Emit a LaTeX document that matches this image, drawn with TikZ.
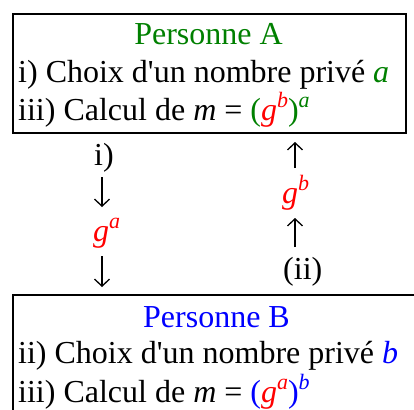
\documentclass[tikz,border=0pt]{standalone}
\usepackage{fontspec}
\setmainfont{Liberation Serif}
\usepackage{xcolor}
\usepackage{tikz}
\usetikzlibrary{arrows.meta}

\definecolor{vertA}{RGB}{0,128,0}
\definecolor{rougeG}{RGB}{255,0,0}
\definecolor{bleuB}{RGB}{0,0,255}
\newcommand{\ital}[1]{\textit{#1}}
\newcommand{\expo}[1]{\raisebox{0.4em}{\fontsize{22}{22}\selectfont\textit{#1}}}

\begin{document}
\begin{tikzpicture}[x=1pt, y=-1pt,
    every node/.style={inner sep=0pt, font=\fontsize{32}{38}\selectfont},
    ligne/.style={anchor=base west},
    titre/.style={anchor=base},
    boite/.style={draw, line width=2.2pt, anchor=north west},
    fleche/.style={line width=1.3pt, -{Straight Barb[length=7pt, width=15pt]}}]
    \useasboundingbox (0,0) rectangle (414,409);

    \node[boite, minimum width=393pt, minimum height=119pt] (boiteA) at (12,13) {};
    \node[titre, text=vertA] (titreA) at (208.5,45) {Personne A};
    \node[ligne] (choixA) at (18,83) {i) Choix d\textquotesingle un nombre privé \textcolor{vertA}{\ital{a}}};
    \node[ligne] (calculA) at (18,120) {iii) Calcul de \ital{m} = \textcolor{vertA}{(\textcolor{rougeG}{\ital{g}\expo{b}})\expo{a}}};

    % colonne de gauche : A vers B
    \node[ligne] (etapeI) at (94,165) {i)};
    \node[ligne, text=rougeG] (gA) at (93,241) {\ital{g}\expo{a}};
    \coordinate (debutA1) at (102,177);
    \coordinate (finA1) at (102,207);
    \coordinate (debutA2) at (102,256);
    \coordinate (finA2) at (102,287);
    \draw[fleche] (debutA1) -- (finA1);
    \draw[fleche] (debutA2) -- (finA2);

    % colonne de droite : B vers A
    \node[ligne, text=rougeG] (gB) at (282,203) {\ital{g}\expo{b}};
    \node[ligne] (etapeII) at (283,279) {(ii)};
    \coordinate (debutB1) at (295,247);
    \coordinate (finB1) at (295,218);
    \coordinate (debutB2) at (295,168);
    \coordinate (finB2) at (295,142);
    \draw[fleche] (debutB1) -- (finB1);
    \draw[fleche] (debutB2) -- (finB2);

    \node[boite, minimum width=409pt, minimum height=130pt] (boiteB) at (12,294) {};
    \node[titre, text=bleuB] (titreB) at (216.5,327) {Personne B};
    \node[ligne] (choixB) at (18,363) {ii) Choix d\textquotesingle un nombre privé \textcolor{bleuB}{\ital{b}}};
    \node[ligne] (calculB) at (18,402) {iii) Calcul de \ital{m} = \textcolor{bleuB}{(\textcolor{rougeG}{\ital{g}\expo{a}})\expo{b}}};
\end{tikzpicture}
\end{document}
